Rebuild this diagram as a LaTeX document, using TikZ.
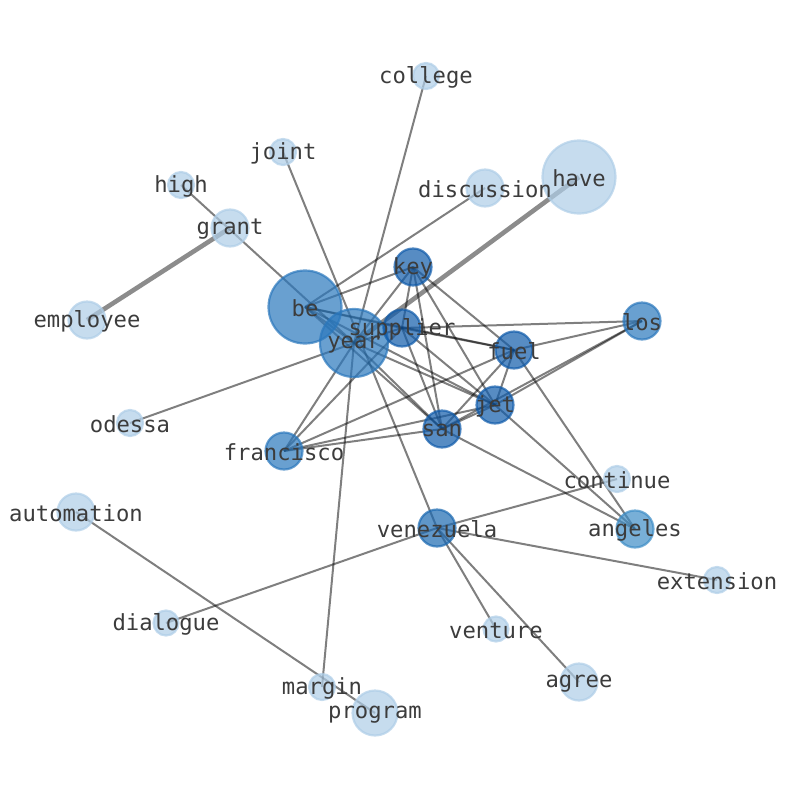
\documentclass[tikz,border=0pt]{standalone}
\usepackage{fontspec}
\setmonofont{DejaVu Sans Mono}
\definecolor{cLight}{RGB}{174,205,231}
\definecolor{cMid}{RGB}{42,119,188}
\definecolor{cDark}{RGB}{16,91,170}
\definecolor{cVen}{RGB}{27,105,177}
\definecolor{cAng}{RGB}{62,141,198}
\definecolor{cLab}{RGB}{60,60,60}
\tikzset{
  edge/.style={draw=black, draw opacity=0.5, line width=2pt},
  thickedge/.style={draw=black, draw opacity=0.45, line width=4.6pt},
  bubble/.style={circle, inner sep=0pt, line width=2.2pt, fill opacity=0.7, draw opacity=0.7},
  lab/.style={font=\ttfamily\fontsize{22.2}{26}\selectfont, text=cLab, inner sep=0pt, anchor=center, yshift=-1.5pt}
}
\begin{document}
\begin{tikzpicture}[x=1pt,y=-1pt]
\useasboundingbox (0,0) rectangle (794,790);
% positions
\foreach \n/\x/\y in {college/426/76, joint/283/152, high/181/185, grant/230/228,
  discussion/485/188, have/579/177, key/413/267, be/305/307, employee/87/320,
  supplier/402/328, year/354/343, los/642/321, fuel/514/350, jet/495/405,
  odessa/130/423, san/442/429, francisco/284/451, continue/617/479,
  automation/76/512, venezuela/437/528, angeles/635/529, extension/717/580,
  dialogue/166/623, venture/496/629, agree/579/682, margin/322/687, program/375/713}
  \coordinate (\n) at (\x,\y);
% thick edges
\draw[thickedge] (employee) -- (grant);
\draw[thickedge] (have) -- (year);
% edges
\foreach \a/\b in {college/year, joint/venezuela, high/year, discussion/be,
  key/be, key/supplier, key/year, key/fuel, key/jet, key/san,
  be/year, be/supplier, be/fuel, be/jet, be/san,
  year/supplier, year/san, year/jet, year/francisco, year/margin, odessa/year,
  supplier/los, supplier/fuel, supplier/jet, supplier/san, supplier/francisco,
  fuel/los, fuel/jet, fuel/san, fuel/francisco, fuel/angeles,
  jet/los, jet/san, jet/francisco, jet/angeles,
  san/los, san/francisco, san/angeles,
  venezuela/continue, venezuela/extension, venezuela/dialogue, venezuela/venture,
  venezuela/agree, automation/program}
  \draw[edge] (\a) -- (\b);
% bubbles
\foreach \n/\r/\c in {college/13/cLight, joint/13/cLight, high/13/cLight, grant/18.5/cLight,
  discussion/18.5/cLight, have/36.5/cLight, employee/18.5/cLight, odessa/13/cLight,
  continue/13/cLight, automation/18.5/cLight, extension/13/cLight, dialogue/12.5/cLight,
  venture/12.5/cLight, agree/18.5/cLight, margin/13/cLight, program/22.5/cLight,
  be/36.5/cMid, year/34/cMid, francisco/18.5/cMid, los/18.5/cMid,
  key/18.5/cDark, supplier/18.5/cDark, fuel/18.5/cDark, jet/18.5/cDark, san/18.5/cDark,
  venezuela/18.5/cVen, angeles/18.5/cAng}
  \node[bubble, minimum size=2*\r pt, fill=\c, draw=\c] (\n-b) at (\n) {};
% labels
\foreach \n in {college, joint, high, grant, discussion, have, key, be, employee,
  supplier, year, los, fuel, jet, odessa, san, francisco, continue, automation,
  venezuela, angeles, extension, dialogue, venture, agree, margin, program}
  \node[lab] (\n-l) at (\n) {\n};
\end{tikzpicture}
\end{document}
